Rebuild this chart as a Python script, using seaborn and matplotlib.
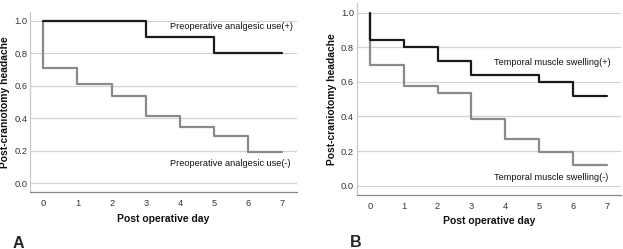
import matplotlib
matplotlib.use("Agg")
import matplotlib.pyplot as plt
import seaborn as sns
import pandas as pd

sns.set_theme(style="white")
plt.rcParams['font.family'] = ['Liberation Sans', 'DejaVu Sans']

days = [0, 1, 2, 3, 4, 5, 6, 7]
start_value = 1.0
a_pos = [1.0, 1.0, 1.0, 0.90, 0.90, 0.80, 0.80, 0.80]
a_neg = [0.711, 0.611, 0.539, 0.416, 0.344, 0.293, 0.195, 0.195]
b_pos = [0.84, 0.80, 0.721, 0.642, 0.642, 0.601, 0.52, 0.52]
b_neg = [0.696, 0.576, 0.538, 0.385, 0.272, 0.193, 0.118, 0.118]
a_labels = ["Preoperative analgesic use(+)", "Preoperative analgesic use(-)"]
b_labels = ["Temporal muscle swelling(+)", "Temporal muscle swelling(-)"]
yticks = [0.0, 0.2, 0.4, 0.6, 0.8, 1.0]
panel_letters = ["A", "B"]

BLACK = "#1a1a1a"
GRAY = "#8a8a8a"

fig = plt.figure(figsize=(6.23, 2.49), dpi=100)
axA = fig.add_axes([0.0482, 0.2277, 0.428, 0.725])
axB = fig.add_axes([0.5725, 0.2169, 0.4243, 0.770])


def curve(vals):
    return pd.DataFrame({"day": [0] + days, "surv": [start_value] + vals})


def draw(ax, pos, neg, labels, ylim, pos_txt, neg_txt):
    for y in yticks:
        ax.axhline(y, color="#d2d2d2", lw=0.9, zorder=0)
    sns.lineplot(data=curve(neg), x="day", y="surv", ax=ax, color=GRAY,
                 lw=1.6, drawstyle="steps-post", sort=False, estimator=None)
    sns.lineplot(data=curve(pos), x="day", y="surv", ax=ax, color=BLACK,
                 lw=1.6, drawstyle="steps-post", sort=False, estimator=None)
    ax.set_xlim(-0.39, 7.42)
    ax.set_ylim(*ylim)
    ax.set_xticks(days)
    ax.set_yticks(yticks)
    ax.set_yticklabels([f"{v:.1f}" for v in yticks])
    ax.tick_params(axis="both", length=0, labelsize=6.7, colors="#333333")
    ax.tick_params(axis="x", pad=5)
    ax.tick_params(axis="y", pad=2)
    ax.set_xlabel("Post operative day", fontsize=7.5, fontweight="bold",
                  color="#111111", labelpad=4)
    ax.set_ylabel("Post-craniotomy headache", fontsize=7.4,
                  fontweight="bold", color="#111111", labelpad=3)
    for s in ["top", "right"]:
        ax.spines[s].set_visible(False)
    ax.spines["left"].set_color("#c8c8c8")
    ax.spines["left"].set_linewidth(0.9)
    ax.spines["bottom"].set_color("#888888")
    ax.spines["bottom"].set_linewidth(0.9)
    ax.text(pos_txt[0], pos_txt[1], labels[0], fontsize=6.6, va="center",
            ha="left", color="#111111")
    ax.text(neg_txt[0], neg_txt[1], labels[1], fontsize=6.6, va="center",
            ha="left", color="#111111")


draw(axA, a_pos, a_neg, a_labels, (-0.055, 1.055), (3.70, 0.967), (3.70, 0.125))
draw(axB, b_pos, b_neg, b_labels, (-0.054, 1.054), (3.67, 0.709), (3.67, 0.045))

fig.text(12.5 / 623, 1 - 247.5 / 249, panel_letters[0], fontsize=11.5,
         fontweight="bold", ha="left", va="baseline")
fig.text(350 / 623, 1 - 246.5 / 249, panel_letters[1], fontsize=11.5,
         fontweight="bold", ha="left", va="baseline")

fig.savefig("out.png", dpi=100)
